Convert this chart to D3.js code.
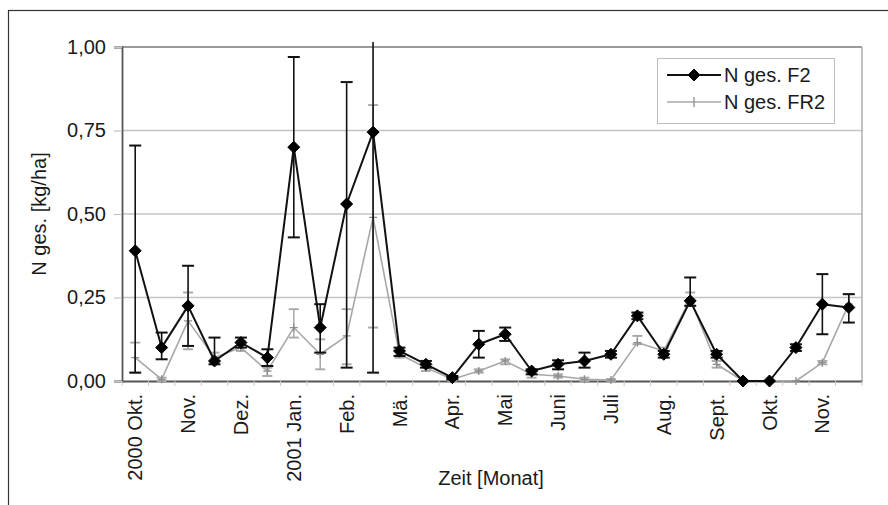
<!DOCTYPE html>
<html><head><meta charset="utf-8">
<script src="https://cdn.jsdelivr.net/npm/d3@7"></script>
<style>body{margin:0;background:#fff}svg{display:block}text{font-family:"Liberation Sans",Arial,sans-serif;fill:#1a1a1a}</style>
</head><body><svg id="c" width="888" height="505"></svg>
<script>
const categories = ["Okt. 00 a","Okt. 00 b","Nov. 00 a","Nov. 00 b","Dez. 00 a","Dez. 00 b","Jan. 01 a","Jan. 01 b","Feb. 01 a","Feb. 01 b","Mä. 01 a","Mä. 01 b","Apr. 01 a","Apr. 01 b","Mai 01 a","Mai 01 b","Juni 01 a","Juni 01 b","Juli 01 a","Juli 01 b","Aug. 01 a","Aug. 01 b","Sept. 01 a","Sept. 01 b","Okt. 01 a","Okt. 01 b","Nov. 01 a","Nov. 01 b"];
const monthLabels = ["2000 Okt.","","Nov.","","Dez.","","2001 Jan.","","Feb.","","Mä.","","Apr.","","Mai","","Juni","","Juli","","Aug.","","Sept.","","Okt.","","Nov.",""];
const f2   = [0.39,0.10,0.225,0.06,0.115,0.07,0.70,0.16,0.53,0.745,0.09,0.05,0.01,0.11,0.14,0.03,0.05,0.06,0.08,0.195,0.08,0.24,0.08,0.0,0.0,0.10,0.23,0.22];
const f2Lo = [0.025,0.065,0.105,0.05,0.10,0.045,0.43,0.085,0.04,0.025,0.075,0.04,0.005,0.07,0.12,0.02,0.035,0.04,0.07,0.185,0.07,0.225,0.07,0,0,0.09,0.14,0.175];
const f2Hi = [0.705,0.145,0.345,0.13,0.13,0.095,0.97,0.23,0.895,1.465,0.10,0.06,0.015,0.15,0.16,0.035,0.062,0.085,0.09,0.205,0.09,0.31,0.09,0,0,0.11,0.32,0.26];
const fr2   = [0.07,0.005,0.18,0.07,0.10,0.03,0.16,0.08,0.135,0.49,0.08,0.04,0.005,0.03,0.06,0.02,0.015,0.005,0.003,0.115,0.09,0.245,0.05,0,0,0,0.055,0.23];
const fr2Lo = [0.025,0,0.095,0.055,0.09,0.015,0.13,0.035,0.05,0.16,0.07,0.03,0,0.025,0.05,0.01,0.01,0,0,0.11,0.08,0.23,0.04,0,0,0,0.05,0.22];
const fr2Hi = [0.115,0.01,0.265,0.085,0.12,0.04,0.215,0.125,0.215,0.826,0.09,0.05,0.01,0.035,0.065,0.03,0.02,0.01,0.006,0.135,0.10,0.265,0.06,0,0,0,0.06,0.26];
const yTicks = [0,0.25,0.5,0.75,1];
const yTickLabels = ["0,00","0,25","0,50","0,75","1,00"];
const seriesNames = ["N ges. F2","N ges. FR2"];

const FS = 20;
const svg = d3.select("#c");
const L=122,R=862,T=47,B=381;
const x = d3.scaleBand().domain(categories).range([L,R]);
const y = d3.scaleLinear().domain([0,1]).range([B,T]);
const cx = c => x(c)+x.bandwidth()/2;

// outer frame
svg.append("rect").attr("x",8.5).attr("y",10.5).attr("width",1000).attr("height",1000).attr("fill","none").attr("stroke","#333").attr("stroke-width",1.2);

// gridlines
svg.append("g").selectAll("line").data(yTicks.slice(1)).join("line")
  .attr("x1",L).attr("x2",R).attr("y1",d=>y(d)).attr("y2",d=>y(d))
  .attr("stroke",d=>d===1?"#9a9a9a":"#c4c4c4").attr("stroke-width",d=>d===1?2:1.4);
// right border
svg.append("line").attr("x1",R).attr("x2",R).attr("y1",T).attr("y2",B).attr("stroke","#a8a8a8").attr("stroke-width",1.4);

// y axis
const yAxis = d3.axisLeft(y).tickValues(yTicks).tickSize(8).tickPadding(8).tickFormat((d,i)=>yTickLabels[i]);
const gy = svg.append("g").attr("transform",`translate(${L},0)`).call(yAxis);
gy.select(".domain").attr("stroke","#555").attr("stroke-width",1.8);
gy.selectAll(".tick line").attr("stroke","#c4c4c4").attr("stroke-width",1.2);
gy.selectAll("text").attr("font-size",FS).attr("fill","#1a1a1a").style("font-family","'Liberation Sans',Arial,sans-serif");

// x axis
const xAxis = d3.axisBottom(x).tickSize(0).tickFormat((d,i)=>monthLabels[i]);
const gx = svg.append("g").attr("transform",`translate(0,${B})`).call(xAxis);
gx.select(".domain").attr("stroke","#555").attr("stroke-width",1.8);
gx.selectAll("text").attr("font-size",FS).attr("fill","#1a1a1a").style("font-family","'Liberation Sans',Arial,sans-serif")
  .attr("transform","rotate(-90)").attr("text-anchor","end").attr("x",-13).attr("y",0).attr("dy","0.35em");
// band boundary ticks
svg.append("g").selectAll("line").data(categories.concat(["end"])).join("line")
  .attr("x1",(d,i)=>i<categories.length?x(d):R).attr("x2",(d,i)=>i<categories.length?x(d):R)
  .attr("y1",B).attr("y2",B+5).attr("stroke","#ccc").attr("stroke-width",1);

const clipV = v => Math.min(v,1.015);
function drawSeries(vals,lo,hi,color,lw,elw,cap,marker){
  const g = svg.append("g");
  const eb = g.append("g");
  categories.forEach((c,i)=>{
    if(hi[i]-lo[i] < 0.004) return;
    const xx = cx(c);
    eb.append("line").attr("x1",xx).attr("x2",xx).attr("y1",y(lo[i])).attr("y2",y(clipV(hi[i]))).attr("stroke",color).attr("stroke-width",elw);
    [lo[i],hi[i]].forEach(v=>{ if(v<=1) eb.append("line").attr("x1",xx-cap).attr("x2",xx+cap).attr("y1",y(v)).attr("y2",y(v)).attr("stroke",color).attr("stroke-width",elw+0.4); });
  });
  const line = d3.line().x((d,i)=>cx(categories[i])).y(d=>y(d));
  g.append("path").datum(vals).attr("d",line).attr("fill","none").attr("stroke",color).attr("stroke-width",lw).attr("stroke-linejoin","round");
  const mk = g.append("g");
  vals.forEach((v,i)=>marker(mk,cx(categories[i]),y(v)));
  return g;
}
const diamond = (g,X,Y)=>g.append("path").attr("d",`M${X},${Y-6}L${X+6},${Y}L${X},${Y+6}L${X-6},${Y}Z`).attr("fill","#000").attr("stroke","#000").attr("stroke-width",1);
const plus = (g,X,Y)=>g.append("path").attr("d",`M${X-4},${Y}H${X+4}M${X},${Y-4}V${Y+4}`).attr("stroke","#8c8c8c").attr("stroke-width",1.3).attr("fill","none");

drawSeries(fr2,fr2Lo,fr2Hi,"#a8a8a8",1.6,1.5,5,plus);
drawSeries(f2,f2Lo,f2Hi,"#111",2,1.6,6,diamond);

// legend
const lg = svg.append("g").attr("transform","translate(657,58)");
lg.append("rect").attr("x",0.5).attr("y",0.5).attr("width",177).attr("height",65).attr("fill","#fff").attr("stroke","#bdbdbd").attr("stroke-width",1);
lg.append("line").attr("x1",10).attr("x2",64).attr("y1",17).attr("y2",17).attr("stroke","#111").attr("stroke-width",2);
diamond(lg,37,17);
lg.append("line").attr("x1",10).attr("x2",64).attr("y1",44).attr("y2",44).attr("stroke","#a8a8a8").attr("stroke-width",1.6);
lg.append("path").attr("d","M37,39V49").attr("stroke","#8c8c8c").attr("stroke-width",1.3);
lg.selectAll("text.l").data(seriesNames).join("text").attr("class","l").attr("x",67).attr("y",(d,i)=>17+i*27).attr("dy","0.35em").attr("font-size",FS).text(d=>d);

// axis titles
svg.append("text").attr("transform",`translate(46,${(T+B)/2}) rotate(-90)`).attr("text-anchor","middle").attr("font-size",FS).text("N ges. [kg/ha]");
svg.append("text").attr("x",491).attr("y",485).attr("text-anchor","middle").attr("font-size",FS).text("Zeit [Monat]");
</script></body></html>
